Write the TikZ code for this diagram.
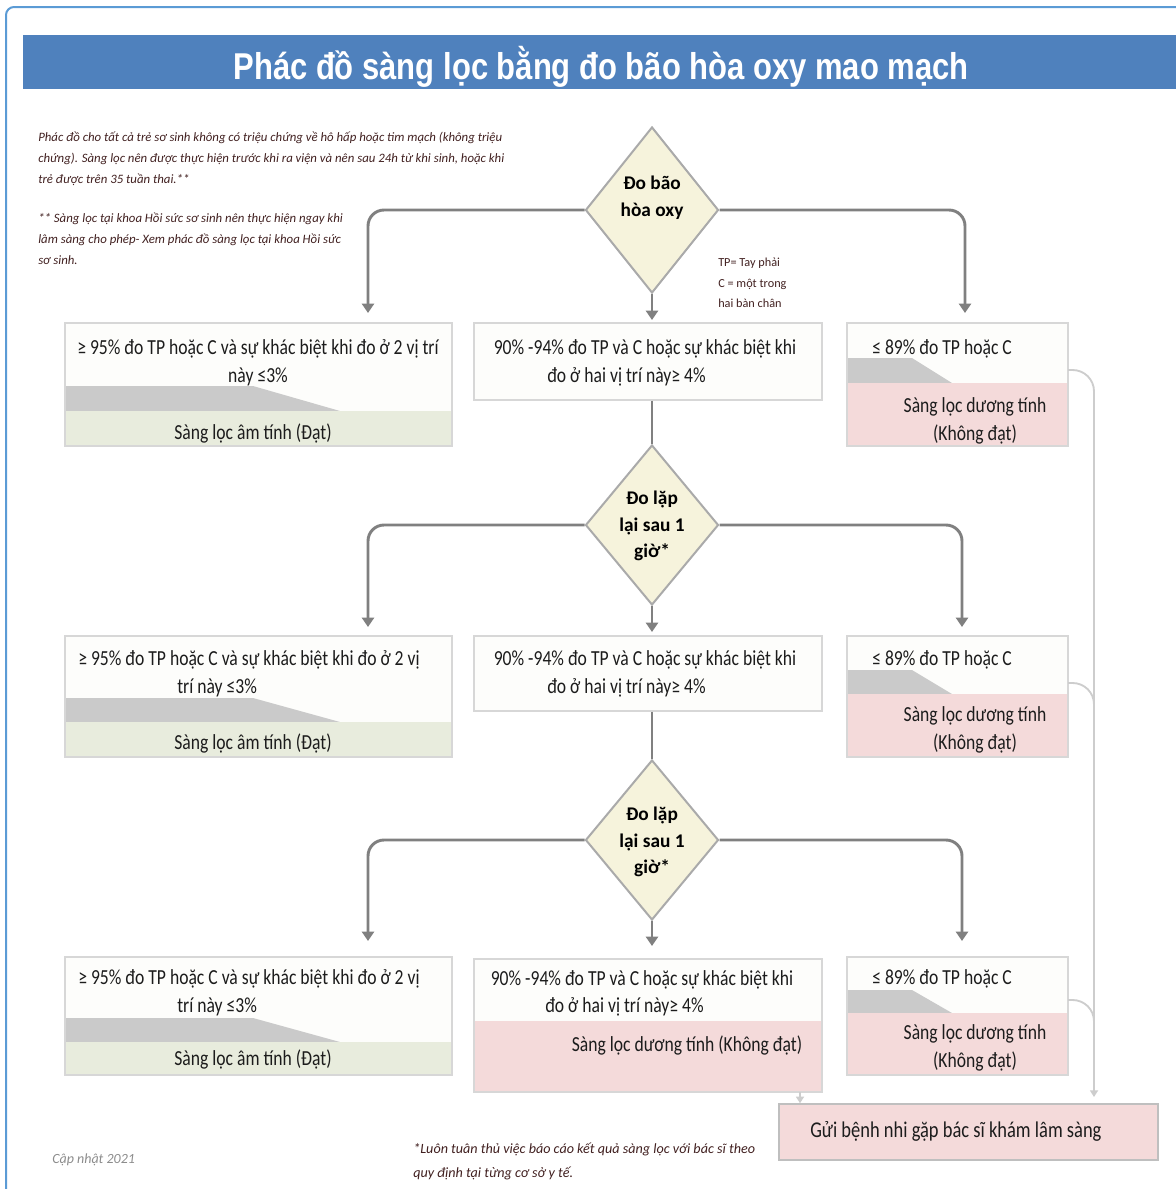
\documentclass[tikz,border=0pt]{standalone}
\usepackage{fontspec}
\setmainfont{Carlito}
\newfontfamily\boxfont{Carlito}[FakeStretch=0.82]
\newfontfamily\titlefont{Liberation Sans}[FakeStretch=0.83]
\usetikzlibrary{shapes.geometric,arrows.meta,fit}
\definecolor{titleblue}{RGB}{79,129,189}
\definecolor{frameblue}{RGB}{91,155,213}
\definecolor{conngray}{RGB}{128,128,128}
\definecolor{thingray}{RGB}{205,205,205}
\definecolor{boxline}{RGB}{215,215,215}
\definecolor{diafill}{RGB}{246,243,220}
\definecolor{diaborder}{RGB}{170,170,170}
\definecolor{greenband}{RGB}{232,236,221}
\definecolor{pinkband}{RGB}{244,218,218}
\definecolor{grayband}{RGB}{202,202,202}
\definecolor{topfill}{RGB}{253,253,251}
\definecolor{txtcol}{RGB}{28,28,28}
\definecolor{notecol}{RGB}{65,32,32}
\begin{document}
\begin{tikzpicture}[x=0.75pt,y=-0.75pt,
  conn/.style={draw=conngray, line width=2.2pt, rounded corners=12, -{Triangle[length=7pt,width=9pt]}},
  link/.style={draw=conngray, line width=2.2pt},
  thinconn/.style={draw=thingray, line width=1.4pt, rounded corners=16},
  box/.style={draw=boxline, line width=1.1pt, inner sep=0pt},
  dia/.style={diamond, draw=diaborder, line width=1.5pt, fill=diafill, inner sep=0pt,
    minimum width=99.75pt, minimum height=120pt},
  diatxt/.style={text=black, inner sep=0pt, font=\bfseries\fontsize{14.5}{20}\selectfont, align=center},
  txt/.style={font=\boxfont\fontsize{16.1}{21}\selectfont, text=txtcol, inner sep=0pt, anchor=mid},
  txtl/.style={txt, anchor=mid west},
  note/.style={font=\itshape\fontsize{9.6}{15.5}\selectfont, text=notecol, inner sep=0pt, anchor=north west, align=left},
]
\useasboundingbox (0,0) rectangle (1176,1189);
% frame and title
\draw[frameblue, line width=1.5pt, rounded corners=6] (1176,7) -- (6,7) -- (6,1189);
\fill[titleblue] (23,35) rectangle (1176,89);
\node[font=\titlefont\bfseries\fontsize{28}{30}\selectfont, text=white, anchor=mid, inner sep=0pt] (title) at (601,76) {Phác đồ sàng lọc bằng đo bão hòa oxy mao mạch};

% notes
\node[note] (n1) at (38,132) {Phác đồ cho tất cả trẻ sơ sinh không có triệu chứng về hô hấp hoặc tim mạch (không triệu\\chứng). Sàng lọc nên được thực hiện trước khi ra viện và nên sau 24h từ khi sinh, hoặc khi\\trẻ được trên 35 tuần thai.**};
\node[note] (n2) at (38,213) {** Sàng lọc tại khoa Hồi sức sơ sinh nên thực hiện ngay khi\\lâm sàng cho phép- Xem phác đồ sàng lọc tại khoa Hồi sức\\sơ sinh.};
\node[font=\fontsize{9.2}{15.3}\selectfont, text=notecol, inner sep=0pt, anchor=north west, align=left] (n3) at (718,258) {TP= Tay phải\\C = một trong\\hai bàn chân};
\node[font=\itshape\fontsize{10.5}{12}\selectfont, text=black!45, inner sep=0pt, anchor=mid west] (upd) at (52,1160) {Cập nhật 2021};
\node[font=\itshape\fontsize{10.6}{17.5}\selectfont, text=notecol, inner sep=0pt, anchor=north west, align=left] (n4) at (413,1143) {*Luôn tuân thủ việc báo cáo kết quả sàng lọc với bác sĩ theo\\quy định tại từng cơ sở y tế.};

% ---------- fills ----------
% row 1
\fill[topfill] (65,323) rectangle (452,446);
\fill[grayband] (65,386) -- (253,386) -- (340,411) -- (65,411) -- cycle;
\fill[greenband] (65,411) rectangle (452,446);
\fill[topfill] (474,323) rectangle (822,400);
\fill[topfill] (847,323) rectangle (1068,446);
\fill[grayband] (847,358) -- (912,358) -- (952,383) -- (847,383) -- cycle;
\fill[pinkband] (847,383) rectangle (1068,446);
% row 2
\fill[topfill] (65,636) rectangle (452,757);
\fill[grayband] (65,698) -- (253,698) -- (340,722) -- (65,722) -- cycle;
\fill[greenband] (65,722) rectangle (452,757);
\fill[topfill] (474,636) rectangle (822,711);
\fill[topfill] (847,636) rectangle (1068,757);
\fill[grayband] (847,670) -- (912,670) -- (952,694) -- (847,694) -- cycle;
\fill[pinkband] (847,694) rectangle (1068,757);
% row 3
\fill[topfill] (65,957) rectangle (452,1075);
\fill[grayband] (65,1018) -- (253,1018) -- (340,1042) -- (65,1042) -- cycle;
\fill[greenband] (65,1042) rectangle (452,1075);
\fill[topfill] (474,959) rectangle (822,1092);
\fill[pinkband] (474,1021) rectangle (822,1092);
\fill[topfill] (847,957) rectangle (1068,1075);
\fill[grayband] (847,990) -- (912,990) -- (952,1013) -- (847,1013) -- cycle;
\fill[pinkband] (847,1013) rectangle (1068,1075);

% ---------- boxes ----------
\node[box, fit={(65,323)(452,446)}] (b1l) {};
\node[box, fit={(474,323)(822,400)}] (b1m) {};
\node[box, fit={(847,323)(1068,446)}] (b1r) {};
\node[box, fit={(65,636)(452,757)}] (b2l) {};
\node[box, fit={(474,636)(822,711)}] (b2m) {};
\node[box, fit={(847,636)(1068,757)}] (b2r) {};
\node[box, fit={(65,957)(452,1075)}] (b3l) {};
\node[box, fit={(474,959)(822,1092)}] (b3m) {};
\node[box, fit={(847,957)(1068,1075)}] (b3r) {};
\node[box, draw=black!25, fill=pinkband, fit={(779,1104)(1158,1160)}] (send) {};

% ---------- diamonds ----------
\node[dia, minimum height=124.5pt] (d1) at (652,210) {};
\node[diatxt] (d1t) at (652,198) {Đo bão\\hòa oxy};
\node[dia] (d2) at (652,525) {};
\node[diatxt] (d2t) at (652,526) {Đo lặp\\lại sau 1\\giờ*};
\node[dia] (d3) at (652,840) {};
\node[diatxt] (d3t) at (652,842) {Đo lặp\\lại sau 1\\giờ*};

% ---------- box texts ----------
\node[txt] (t1a) at (258,351) {≥ 95\% đo TP hoặc C và sự khác biệt khi đo ở 2 vị trí};
\node[txt] (t1b) at (258,379) {này ≤3\%};
\node[txt] (t1c) at (253,436) {Sàng lọc âm tính (Đạt)};
\node[txt] (t1d) at (645,351) {90\% -94\% đo TP và C hoặc sự khác biệt khi};
\node[txtl] (t1e) at (547,379) {đo ở hai vị trí này≥ 4\%};
\node[txtl] (t1f) at (872,351) {≤ 89\% đo TP hoặc C};
\node[txt] (t1g) at (975,409) {Sàng lọc dương tính};
\node[txt] (t1h) at (975,437) {(Không đạt)};

\node[txtl] (t2a) at (78,662) {≥ 95\% đo TP hoặc C và sự khác biệt khi đo ở 2 vị};
\node[txtl] (t2b) at (177,690) {trí này ≤3\%};
\node[txt] (t2c) at (253,746) {Sàng lọc âm tính (Đạt)};
\node[txt] (t2d) at (645,662) {90\% -94\% đo TP và C hoặc sự khác biệt khi};
\node[txtl] (t2e) at (547,690) {đo ở hai vị trí này≥ 4\%};
\node[txtl] (t2f) at (872,662) {≤ 89\% đo TP hoặc C};
\node[txt] (t2g) at (975,718) {Sàng lọc dương tính};
\node[txt] (t2h) at (975,746) {(Không đạt)};

\node[txtl] (t3a) at (78,981) {≥ 95\% đo TP hoặc C và sự khác biệt khi đo ở 2 vị};
\node[txtl] (t3b) at (177,1009) {trí này ≤3\%};
\node[txt] (t3c) at (253,1062) {Sàng lọc âm tính (Đạt)};
\node[txt] (t3d) at (642,982) {90\% -94\% đo TP và C hoặc sự khác biệt khi};
\node[txtl] (t3e) at (545,1009) {đo ở hai vị trí này≥ 4\%};
\node[txt] (t3f) at (687,1048) {Sàng lọc dương tính (Không đạt)};
\node[txtl] (t3g) at (872,981) {≤ 89\% đo TP hoặc C};
\node[txt] (t3h) at (975,1036) {Sàng lọc dương tính};
\node[txt] (t3i) at (975,1064) {(Không đạt)};

\node[txtl, font=\boxfont\fontsize{16.9}{21}\selectfont] (tsend) at (810,1134) {Gửi bệnh nhi gặp bác sĩ khám lâm sàng};

% ---------- connectors ----------
\coordinate (a1l) at (368,313);
\coordinate (a1r) at (965,313);
\coordinate (a2l) at (368,627);
\coordinate (a2r) at (962,627);
\coordinate (a3l) at (368,941);
\coordinate (a3r) at (962,941);
\draw[conn] (d1.west) -| (a1l);
\draw[conn] (d1.east) -| (a1r);
\draw[conn] (d1.south) -- (652,320);
\draw[link] (d2.north |- b1m.south) -- (d2.north);
\draw[conn] (d2.west) -| (a2l);
\draw[conn] (d2.east) -| (a2r);
\draw[conn] (d2.south) -- (652,632);
\draw[link] (d3.north |- b2m.south) -- (d3.north);
\draw[conn] (d3.west) -| (a3l);
\draw[conn] (d3.east) -| (a3r);
\draw[conn] (d3.south) -- (652,946);

% thin connectors to the final box
\coordinate (r1e) at (1068,370);
\coordinate (r2e) at (1068,683);
\coordinate (r3e) at (1068,1000);
\coordinate (fend) at (1094,1097);
\coordinate (m3s) at (800,1092);
\draw[thinconn, -{Triangle[length=5pt,width=6pt]}] (r1e) -| (fend);
\draw[thinconn] (r2e) -| (1094,730);
\draw[thinconn] (r3e) -| (1094,1040);
\draw[draw=thingray, line width=1.4pt, -{Triangle[length=5pt,width=6pt]}] (m3s) -- (m3s |- send.north);
\end{tikzpicture}
\end{document}
